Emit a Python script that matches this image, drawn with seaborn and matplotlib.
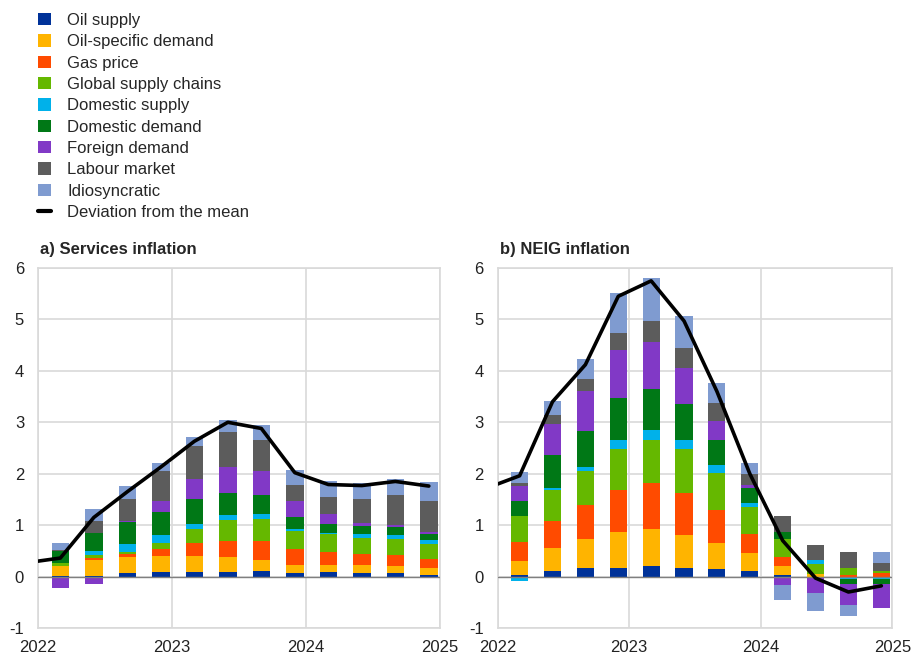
import numpy as np
import pandas as pd
import seaborn as sns
import matplotlib.pyplot as plt
from matplotlib.patches import Patch
from matplotlib.lines import Line2D

# Quarterly contributions, 2022Q1 - 2024Q4 (bars at mid-quarter)
quarters = ["2022Q1", "2022Q2", "2022Q3", "2022Q4", "2023Q1", "2023Q2",
            "2023Q3", "2023Q4", "2024Q1", "2024Q2", "2024Q3", "2024Q4"]

labels = ["Oil supply", "Oil-specific demand", "Gas price", "Global supply chains",
          "Domestic supply", "Domestic demand", "Foreign demand", "Labour market",
          "Idiosyncratic"]
colors = ["#003299", "#FFB400", "#FF4B00", "#65B800", "#00B1EA",
          "#007816", "#8139C6", "#5C5C5C", "#7F9BD0"]

# a) Services inflation
oil_supply_a = [0.02, 0.02, 0.06, 0.08, 0.08, 0.08, 0.11, 0.06, 0.08, 0.06, 0.06, 0.04]
oil_demand_a = [0.18, 0.30, 0.32, 0.32, 0.32, 0.30, 0.21, 0.17, 0.15, 0.17, 0.15, 0.12]
gas_a = [0.01, 0.05, 0.05, 0.13, 0.26, 0.32, 0.38, 0.30, 0.25, 0.20, 0.20, 0.18]
gsc_a = [0.05, 0.04, 0.05, 0.13, 0.27, 0.40, 0.42, 0.36, 0.34, 0.32, 0.32, 0.30]
dom_supply_a = [0.00, 0.08, 0.15, 0.14, 0.10, 0.10, 0.10, 0.03, 0.03, 0.07, 0.07, 0.07]
dom_demand_a = [0.23, 0.35, 0.43, 0.45, 0.47, 0.43, 0.36, 0.24, 0.18, 0.16, 0.16, 0.12]
foreign_a = [-0.23, -0.14, 0.03, 0.21, 0.40, 0.50, 0.47, 0.30, 0.18, 0.07, 0.04, 0.03]
labour_a = [0.02, 0.25, 0.42, 0.60, 0.64, 0.69, 0.60, 0.32, 0.33, 0.45, 0.58, 0.60]
idio_a = [0.15, 0.22, 0.25, 0.15, 0.18, 0.23, 0.30, 0.29, 0.32, 0.32, 0.31, 0.38]
# deviation from the mean, 2021Q4 - 2024Q4
line_a = [0.27, 0.36, 1.15, 1.65, 2.13, 2.63, 3.00, 2.88, 2.02, 1.79, 1.77, 1.85, 1.76]

# b) NEIG inflation
oil_supply_b = [0.03, 0.11, 0.16, 0.16, 0.21, 0.16, 0.14, 0.11, 0.03, 0.00, 0.00, 0.00]
oil_demand_b = [0.27, 0.45, 0.58, 0.70, 0.72, 0.65, 0.52, 0.34, 0.17, 0.05, 0.00, 0.00]
gas_b = [0.38, 0.52, 0.65, 0.83, 0.88, 0.82, 0.63, 0.38, 0.18, 0.00, 0.03, 0.06]
gsc_b = [0.49, 0.60, 0.67, 0.79, 0.84, 0.85, 0.72, 0.52, 0.35, 0.20, 0.13, 0.05]
dom_supply_b = [-0.09, 0.05, 0.08, 0.17, 0.20, 0.17, 0.15, 0.08, 0.00, 0.07, -0.05, -0.05]
dom_demand_b = [0.30, 0.63, 0.70, 0.83, 0.79, 0.70, 0.50, 0.30, 0.13, 0.00, -0.09, -0.09]
foreign_b = [0.30, 0.61, 0.76, 0.92, 0.93, 0.70, 0.37, 0.05, -0.17, -0.31, -0.42, -0.48]
labour_b = [0.05, 0.17, 0.25, 0.34, 0.40, 0.39, 0.35, 0.22, 0.32, 0.29, 0.32, 0.16]
idio_b = [0.21, 0.28, 0.38, 0.77, 0.84, 0.62, 0.38, 0.20, -0.29, -0.35, -0.21, 0.20]
line_b = [1.72, 1.96, 3.40, 4.12, 5.45, 5.75, 4.97, 3.60, 2.00, 0.70, -0.03, -0.30, -0.18]

sns.set_style("whitegrid")
plt.rcParams['font.family'] = ['Liberation Sans', 'DejaVu Sans']
plt.rcParams['axes.unicode_minus'] = False

# x positions in decimal years (mid-quarter)
x_bars = np.array([2022 + (2 + 3 * i) / 12 for i in range(len(quarters))])
x_line = np.concatenate([[2022 - 1 / 12], x_bars])

df_a = pd.DataFrame(dict(zip(labels, [oil_supply_a, oil_demand_a, gas_a, gsc_a, dom_supply_a,
                                      dom_demand_a, foreign_a, labour_a, idio_a])), index=quarters)
df_b = pd.DataFrame(dict(zip(labels, [oil_supply_b, oil_demand_b, gas_b, gsc_b, dom_supply_b,
                                      dom_demand_b, foreign_b, labour_b, idio_b])), index=quarters)

fig = plt.figure(figsize=(9.13, 6.54), dpi=100)
ax_a = fig.add_axes([38 / 913, 26 / 654, 402 / 913, 360 / 654])
ax_b = fig.add_axes([497.7 / 913, 26 / 654, 394.6 / 913, 360 / 654])


def draw_panel(ax, df, line, title):
    pos = np.zeros(len(df))
    neg = np.zeros(len(df))
    for col, c in zip(labels, colors):
        v = df[col].values
        bottom = np.where(v >= 0, pos, neg)
        ax.bar(x_bars, v, bottom=bottom, width=0.13, color=c, linewidth=0, zorder=2)
        pos = pos + np.clip(v, 0, None)
        neg = neg + np.clip(v, None, 0)
    ax.axhline(0, color="#7f7f7f", lw=1.0, zorder=3)
    sns.lineplot(x=x_line, y=line, ax=ax, color="black", lw=2.6, zorder=4)
    ax.set_xlim(2022, 2025)
    ax.set_ylim(-1, 6)
    ax.set_xticks([2022, 2023, 2024, 2025])
    ax.set_xticklabels(["2022", "2023", "2024", "2025"])
    ax.set_yticks(range(-1, 7))
    ax.grid(True, color="#d9d9d9", lw=1.2, zorder=0)
    ax.set_axisbelow(True)
    for s in ax.spines.values():
        s.set_color("#d9d9d9")
        s.set_linewidth(1.2)
    ax.tick_params(axis="both", labelsize=12, colors="#222222", length=0)
    ax.tick_params(axis="x", pad=9)
    ax.tick_params(axis="y", pad=10)
    ax.set_title(title, loc="left", fontsize=12, fontweight="bold", pad=10, x=0.005)


draw_panel(ax_a, df_a, line_a, "a) Services inflation")
draw_panel(ax_b, df_b, line_b, "b) NEIG inflation")

handles = [Patch(facecolor=c, edgecolor="none") for c in colors]
handles.append(Line2D([0], [0], color="black", lw=3))
fig.legend(handles, labels + ["Deviation from the mean"], loc="upper left",
           bbox_to_anchor=(38 / 913, 1 - 13 / 654), frameon=False, fontsize=12,
           handlelength=0.75, handleheight=0.75, handletextpad=1.0,
           labelspacing=0.38, borderpad=0, borderaxespad=0)

fig.savefig("out.png", dpi=100)
